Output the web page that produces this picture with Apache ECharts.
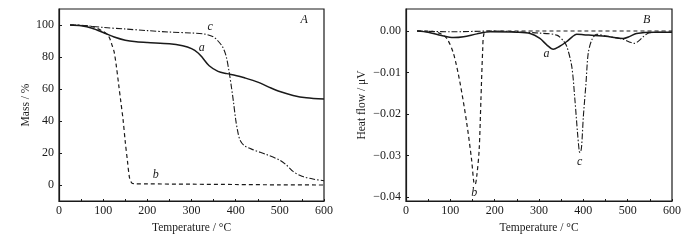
<!DOCTYPE html>
<html>
<head>
<meta charset="utf-8">
<script src="https://cdn.jsdelivr.net/npm/echarts@6/dist/echarts.min.js"></script>
<style>
  html, body { margin: 0; padding: 0; background: #fff; }
  #chart { width: 700px; height: 241px; }
</style>
</head>
<body>
<div id="chart"></div>
<script>
// Panel A: mass (TG) curves, [temperature, mass %]
var tgA = [[25,100],[50,99.5],[75,98],[100,95.3],[125,92.5],[150,90.5],[175,89.5],[200,89],[250,88.3],[280,87],[300,85.2],[315,82.5],[325,79.5],[340,74.5],[360,71],[380,69.6],[400,68.5],[420,67],[450,64.3],[480,60.6],[500,58.4],[530,56],[560,54.5],[600,53.7]];
var tgB = [[25,100],[50,99.7],[75,99],[100,96],[110,94],[115,91.5],[120,87.5],[125,83],[130,74],[135,63],[140,52],[145,41],[150,27],[155,15],[160,4],[165,1.2],[170,0.8],[200,0.7],[300,0.5],[400,0.3],[500,0.1],[600,0]];
var tgC = [[25,100],[50,99.8],[100,98.5],[150,97.5],[200,96.5],[250,95.6],[300,95],[330,94.3],[350,92.5],[360,90],[370,86.5],[378,81],[385,71],[390,62],[395,52],[400,41],[405,33],[410,28],[420,24.5],[440,22],[470,19],[500,15.5],[515,12.5],[530,8.5],[550,5.5],[575,3.7],[600,2.7]];

// Panel B: heat flow (DTA) curves, [temperature, heat flow]
var dtaA = [[25,0],[50,-0.0003],[80,-0.0011],[107,-0.0016],[130,-0.0014],[160,-0.0007],[190,-0.0002],[250,-0.0003],[280,-0.0006],[302,-0.0018],[318,-0.0034],[332,-0.0044],[345,-0.0038],[362,-0.0026],[375,-0.0014],[385,-0.0008],[400,-0.0009],[450,-0.0013],[490,-0.0018],[505,-0.0013],[520,-0.0006],[560,-0.0003],[600,-0.0003]];
var dtaB = [[25,0],[60,-0.0001],[77,-0.0006],[92,-0.0018],[107,-0.0054],[122,-0.0126],[137,-0.0222],[148,-0.0311],[153,-0.0365],[156,-0.037],[159.5,-0.0351],[165,-0.0287],[169,-0.0166],[173,-0.0046],[176,-0.0006],[185,0],[300,0],[400,0],[500,0],[600,0]];
var dtaC = [[25,0],[100,-0.0002],[200,0],[250,-0.0002],[300,-0.0005],[340,-0.001],[355,-0.0024],[363,-0.0038],[374,-0.0086],[381,-0.0166],[387,-0.0247],[391,-0.0291],[393,-0.0293],[396,-0.0279],[400,-0.0207],[406,-0.0126],[411,-0.0054],[419,-0.0022],[430,-0.0008],[450,-0.0012],[490,-0.002],[505,-0.0027],[515,-0.003],[525,-0.0024],[535,-0.0014],[550,-0.0004],[600,-0.0003]];

var xTicks = [0, 100, 200, 300, 400, 500, 600];
var massTicks = [0, 20, 40, 60, 80, 100];
var heatTicks = [0, -0.01, -0.02, -0.03, -0.04];

// text annotations, [text, temperature, value, panel]
var notes = [
  ['A', 555, 103, 0], ['a', 323, 85.5, 0], ['b', 219, 6.4, 0], ['c', 342, 98.8, 0],
  ['B', 543, 0.0027, 1], ['a', 317, -0.0055, 1], ['b', 154, -0.039, 1], ['c', 392, -0.0315, 1]
];

var FONT = '"Liberation Serif", "DejaVu Serif", serif';
var INK = '#1a1a1a';

function xAxisFor(idx) {
  return {
    gridIndex: idx, type: 'value', min: 0, max: 600, interval: 50,
    name: 'Temperature / °C', nameLocation: 'middle', nameGap: 15,
    nameTextStyle: { fontFamily: FONT, fontSize: 11.5, color: INK },
    axisLine: { onZero: false, lineStyle: { color: INK, width: 1.2 } },
    axisTick: { inside: true, length: 2, lineStyle: { color: INK } },
    axisLabel: {
      margin: 4, fontFamily: FONT, fontSize: 12, color: INK,
      customValues: xTicks
    },
    splitLine: { show: false }
  };
}

function line(data, dash, width, xi) {
  return {
    type: 'line', data: data, xAxisIndex: xi, yAxisIndex: xi,
    showSymbol: false, smooth: 0.3, animation: false,
    lineStyle: { color: INK, width: width, type: dash }
  };
}

var chart = echarts.init(document.getElementById('chart'));
chart.setOption({
  backgroundColor: '#fff',
  animation: false,
  grid: [
    { left: 59, right: 376, top: 9, bottom: 40, show: true, borderColor: INK, borderWidth: 1.2 },
    { left: 406, right: 28, top: 9, bottom: 40, show: true, borderColor: INK, borderWidth: 1.2 }
  ],
  xAxis: [xAxisFor(0), xAxisFor(1)],
  yAxis: [
    {
      gridIndex: 0, type: 'value', min: -10, max: 110, interval: 10,
      name: 'Mass / %', nameLocation: 'middle', nameGap: 26,
      nameTextStyle: { fontFamily: FONT, fontSize: 11.5, color: INK },
      axisLine: { onZero: false, lineStyle: { color: INK, width: 1.2 } },
      axisTick: { inside: true, length: 3, lineStyle: { color: INK }, customValues: massTicks },
      axisLabel: { margin: 5, fontFamily: FONT, fontSize: 12, color: INK, customValues: massTicks },
      splitLine: { show: false }
    },
    {
      gridIndex: 1, type: 'value', min: -0.041, max: 0.0053,
      name: 'Heat flow / μV', nameLocation: 'middle', nameGap: 38,
      nameTextStyle: { fontFamily: FONT, fontSize: 11.5, color: INK },
      axisLine: { onZero: false, lineStyle: { color: INK, width: 1.2 } },
      axisTick: { inside: true, length: 3, lineStyle: { color: INK }, customValues: heatTicks },
      axisLabel: {
        margin: 5, fontFamily: FONT, fontSize: 12, color: INK, customValues: heatTicks,
        formatter: function (v) { return (v < 0 ? '\u2212' : '') + Math.abs(v).toFixed(2); }
      },
      splitLine: { show: false }
    }
  ],
  series: [
    line(tgA, 'solid', 1.5, 0),
    line(tgB, [4, 3], 1.2, 0),
    line(tgC, [6, 2, 1.5, 2], 1.1, 0),
    line(dtaA, 'solid', 1.5, 1),
    line(dtaB, [4, 3], 1.2, 1),
    line(dtaC, [6, 2, 1.5, 2], 1.1, 1)
  ]
});

// place the annotation letters from their data coordinates
var texts = notes.map(function (n) {
  var p = chart.convertToPixel({ gridIndex: n[3] }, [n[1], n[2]]);
  return {
    type: 'text', x: p[0], y: p[1],
    style: {
      text: n[0], fill: INK, align: 'center', verticalAlign: 'middle',
      font: 'italic 12px ' + FONT
    }
  };
});
chart.setOption({ graphic: texts });
</script>
</body>
</html>
